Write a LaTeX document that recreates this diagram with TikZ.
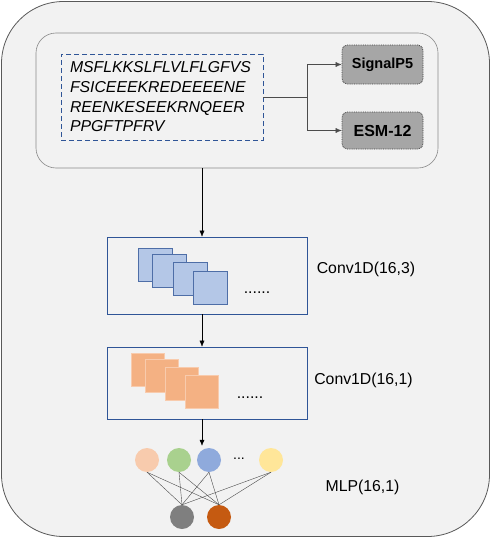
\documentclass[tikz,border=0pt]{standalone}
\usepackage{xcolor}
\usepackage{fontspec}
\setmainfont{Liberation Sans}
\usepackage{tikz}
\usetikzlibrary{positioning, arrows.meta, calc}

\definecolor{panel}{HTML}{F2F2F2}
\definecolor{outline}{HTML}{595959}
\definecolor{innerline}{HTML}{8A8A8A}
\definecolor{convblue}{HTML}{2F5597}
\definecolor{sqblue}{HTML}{B4C7E7}
\definecolor{sqorange}{HTML}{F4B183}
\definecolor{sqorangeline}{HTML}{F8CBAD}
\definecolor{toolgray}{HTML}{A6A6A6}
\definecolor{npeach}{HTML}{F8CBAD}
\definecolor{ngreen}{HTML}{A9D18E}
\definecolor{nblue}{HTML}{8FAADC}
\definecolor{nyellow}{HTML}{FFE699}
\definecolor{ngray}{HTML}{7F7F7F}
\definecolor{norange}{HTML}{C55A11}

\tikzset{
  seqbox/.style={draw=convblue, dash pattern=on 5pt off 3pt, thick, align=left, text width=184pt, inner xsep=9pt,
    minimum height=86pt, font=\fontsize{15.8}{19.7}\selectfont\itshape},
  toolbox/.style={draw=black!75, densely dotted, thick, fill=toolgray, rounded corners=5pt,
    minimum width=81pt, font=\fontsize{14.5}{17}\selectfont\bfseries},
  convbox/.style={draw=convblue, semithick, fill=panel, minimum width=200pt},
  layerlabel/.style={font=\fontsize{15.8}{18}\selectfont},
  neuron/.style={circle, minimum size=24pt, inner sep=0pt},
  link/.style={-{Latex[length=6pt,width=5pt]}, black}
}

\begin{document}
\begin{tikzpicture}[x=1pt, y=-1pt]
  \useasboundingbox (0,0) rectangle (491,538);
  \filldraw[thick, fill=panel, draw=outline, rounded corners=62pt] (1.5,1.5) rectangle (489.5,536.5);

  % input panel
  \node[draw=innerline, semithick, fill=panel, rounded corners=20pt, minimum width=402pt, minimum height=135pt] (input) at (237,100.5) {};
  \node[seqbox] (seq) at (162,97) {MSFLKKSLFLVLFLGFVS\\FSICEEEKREDEEEENE\\REENKESEEKRNQEER\\PPGFTPFRV};
  \node[toolbox, minimum height=39pt] (sig) at (382.5,64.5) {SignalP5};
  \node[toolbox, minimum height=37pt, font=\fontsize{16}{18}\selectfont\bfseries] (esm) at (382.5,130.5) {ESM-12};
  \coordinate (split) at (307,97);
  \draw[black!70] (seq.east) -- (split);
  \draw[link, black!70] (split) |- (sig.west);
  \draw[link, black!70] (split) |- (esm.west);

  % conv layers
  \coordinate (stem) at (202,0);
  \node[convbox, minimum height=77pt] (conv1) at (207,275.5) {};
  \node[convbox, minimum height=72pt] (conv2) at (207,383) {};
  \foreach \x/\y in {138/248, 152/254, 173/262, 193/271}
    \filldraw[thick, fill=sqblue, draw=convblue!85] (\x,\y) rectangle ++(34,33);
  \foreach \x/\y in {131/353, 145/359, 165/367, 185/375}
    \filldraw[thick, fill=sqorange, draw=sqorangeline] (\x,\y) rectangle ++(33,33);
  \node[layerlabel] (dots1) at (257,293) {......};
  \node[layerlabel] (dots2) at (250,398) {......};
  \node[layerlabel] (lab1) at (366,269) {Conv1D(16,3)};
  \node[layerlabel] (lab2) at (363.5,380) {Conv1D(16,1)};

  % mlp
  \node[neuron, fill=npeach] (n1) at (147,460) {};
  \node[neuron, fill=ngreen] (n2) at (179,460) {};
  \node[neuron, fill=nblue] (n3) at (209,460) {};
  \node[font=\fontsize{14}{16}\selectfont] (ndots) at (239,459) {...};
  \node[neuron, fill=nyellow] (n5) at (271,460) {};
  \node[neuron, fill=ngray] (o1) at (182,517) {};
  \node[neuron, fill=norange] (o2) at (219,517) {};
  \foreach \t in {n1,n2,n3,n5}
    \foreach \b in {o1,o2}
      \draw[black!70] (\t.south) -- (\b.north);
  \node[layerlabel] (lab3) at (362.5,487) {MLP(16,1)};

  \draw[link] (input.south -| stem) -- (conv1.north -| stem);
  \draw[link] (conv1.south -| stem) -- (conv2.north -| stem);
  \draw[link] (conv2.south -| stem) -- ($(n3.north -| stem)+(0,-2)$);
\end{tikzpicture}
\end{document}
